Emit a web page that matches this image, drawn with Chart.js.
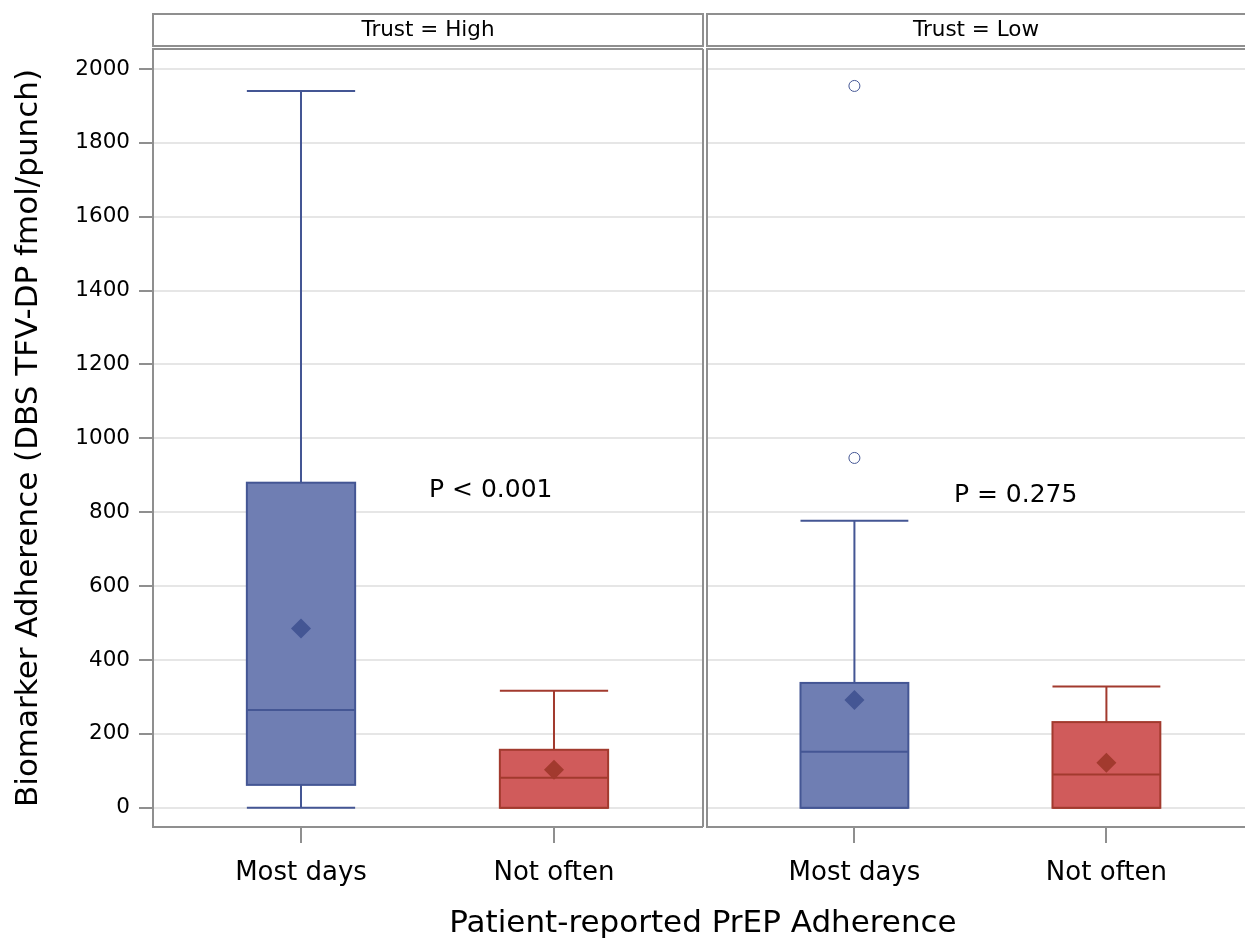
<!DOCTYPE html>
<html>
<head>
<meta charset="utf-8">
<script src="https://cdn.jsdelivr.net/npm/chart.js@4.4.1/dist/chart.umd.min.js"></script>
<style>
  html, body { margin: 0; padding: 0; background: #fff; }
  #wrap { position: relative; width: 1245px; height: 938px; overflow: hidden; font-family: "DejaVu Sans", sans-serif; }
  #left { position: absolute; left: 0; top: 0; }
  #right { position: absolute; left: 705px; top: 0; }
  #xtitle { position: absolute; left: 0; width: 1406px; top: 902px; line-height: 38px; text-align: center; font-size: 31px; color: #000; }
</style>
</head>
<body>
<div id="wrap">
  <canvas id="left" width="705" height="938"></canvas>
  <canvas id="right" width="540" height="938"></canvas>
  <div id="xtitle">Patient-reported PrEP Adherence</div>
</div>
<script>
// data
const categories = ['Most days', 'Not often'];
const panels = ['Trust = High', 'Trust = Low'];
const yTicks = [0, 200, 400, 600, 800, 1000, 1200, 1400, 1600, 1800, 2000];

const whiskerLow = [[0, 0], [0, 0]];
const q1 = [[62, 0], [0, 0]];
const median = [[265, 81], [152, 90]];
const q3 = [[880, 157], [338, 232]];
const whiskerHigh = [[1940, 317], [777, 328]];
const means = [[485, 103], [292, 122]];
const outliers = [[[], []], [[947, 1954], []]];
const pLabels = ['P < 0.001', 'P = 0.275'];
const pPos = [[0.75, 860], [0.64, 845]];

const fills = ['#6f7eb3', '#d05b5b'];
const lines = ['#445694', '#a23a2e'];
const frame = '#8f8f8f';
const font = '"DejaVu Sans", sans-serif';

const boxPlugin = {
  id: 'boxes',
  beforeDatasetsDraw(chart) {
    const p = chart.options.plugins.boxes.panel;
    const { ctx } = chart;
    const x = chart.scales.x, y = chart.scales.y;
    const half = x.getPixelForValue(0.214) - x.getPixelForValue(0);
    ctx.save();
    categories.forEach((c, i) => {
      const cx = x.getPixelForValue(i);
      const top = y.getPixelForValue(q3[p][i]);
      const bot = y.getPixelForValue(q1[p][i]);
      const hi = y.getPixelForValue(whiskerHigh[p][i]);
      const lo = y.getPixelForValue(whiskerLow[p][i]);
      ctx.lineWidth = 2;
      ctx.strokeStyle = lines[i];
      // whiskers + caps
      ctx.beginPath();
      ctx.moveTo(cx, top); ctx.lineTo(cx, hi);
      ctx.moveTo(cx, bot); ctx.lineTo(cx, lo);
      ctx.moveTo(cx - half, hi); ctx.lineTo(cx + half, hi);
      ctx.moveTo(cx - half, lo); ctx.lineTo(cx + half, lo);
      ctx.stroke();
      // box
      ctx.fillStyle = fills[i];
      ctx.fillRect(cx - half, top, half * 2, bot - top);
      ctx.strokeRect(cx - half, top, half * 2, bot - top);
      const m = y.getPixelForValue(median[p][i]);
      ctx.beginPath();
      ctx.moveTo(cx - half, m); ctx.lineTo(cx + half, m);
      ctx.stroke();
    });
    ctx.restore();
  },
  afterDraw(chart) {
    const p = chart.options.plugins.boxes.panel;
    const { ctx, chartArea: a } = chart;
    const x = chart.scales.x, y = chart.scales.y;
    ctx.save();
    ctx.strokeStyle = frame;
    ctx.lineWidth = 2;
    const r = p === 0 ? a.right : a.right + 4;
    // panel frame
    ctx.beginPath();
    ctx.moveTo(r, a.top); ctx.lineTo(a.left, a.top); ctx.lineTo(a.left, a.bottom); ctx.lineTo(r, a.bottom);
    if (p === 0) { ctx.moveTo(a.right, a.top); ctx.lineTo(a.right, a.bottom); }
    ctx.stroke();
    // header strip
    ctx.strokeRect(a.left, 14, r - a.left, 32);
    ctx.fillStyle = '#000';
    ctx.font = '21.5px ' + font;
    ctx.textAlign = 'center';
    ctx.textBaseline = 'middle';
    ctx.fillText(panels[p], (a.left + a.right) / 2, 30);
    // p-value
    ctx.font = '25px ' + font;
    ctx.fillText(pLabels[p], x.getPixelForValue(pPos[p][0]), y.getPixelForValue(pPos[p][1]));
    ctx.restore();
  }
};

function makeChart(id, p) {
  const left = p === 0;
  return new Chart(document.getElementById(id), {
    type: 'scatter',
    data: {
      datasets: [
        {
          data: means[p].map((v, i) => ({ x: i, y: v })),
          pointStyle: 'rectRot',
          pointRadius: 10,
          pointBackgroundColor: lines,
          pointBorderColor: lines,
          pointBorderWidth: 0
        },
        {
          data: outliers[p].flatMap((arr, i) => arr.map(v => ({ x: i, y: v }))),
          pointStyle: 'circle',
          pointRadius: 5.5,
          pointBackgroundColor: 'rgba(255,255,255,0)',
          pointBorderColor: lines[0],
          pointBorderWidth: 1
        }
      ]
    },
    options: {
      responsive: false,
      animation: false,
      layout: { autoPadding: false, padding: { top: 49, left: left ? 0 : 2, right: left ? 2 : 0, bottom: 0 } },
      plugins: {
        legend: { display: false },
        tooltip: { enabled: false },
        boxes: { panel: p }
      },
      scales: {
        x: {
          type: 'linear',
          min: -0.585,
          max: left ? 1.589 : 1.55,
          afterBuildTicks: s => { s.ticks = categories.map((c, i) => ({ value: i })); },
          afterFit: s => { s.height = 111; s.paddingLeft = 0; s.paddingRight = 0; },
          ticks: {
            callback: v => categories[v],
            color: '#000',
            font: { family: font, size: 26 },
            padding: 15
          },
          grid: { drawOnChartArea: false, tickLength: 16, color: frame, lineWidth: 2 },
          border: { display: false }
        },
        y: {
          min: -52,
          max: 2054,
          afterBuildTicks: s => { s.ticks = yTicks.map(v => ({ value: v })); },
          afterFit: s => { s.width = left ? 153 : 0; },
          ticks: {
            display: left,
            callback: v => String(v),
            color: '#000',
            font: { family: font, size: 21.5 },
            padding: 9
          },
          grid: { color: '#e6e6e6', lineWidth: 2, tickLength: 14, tickColor: frame, drawTicks: left },
          border: { display: false },
          title: {
            display: left,
            text: 'Biomarker Adherence (DBS TFV-DP fmol/punch)',
            color: '#000',
            font: { family: font, size: 31 },
            padding: { top: 10, bottom: 0 }
          }
        }
      }
    },
    plugins: [boxPlugin]
  });
}

makeChart('left', 0);
makeChart('right', 1);
</script>
</body>
</html>
